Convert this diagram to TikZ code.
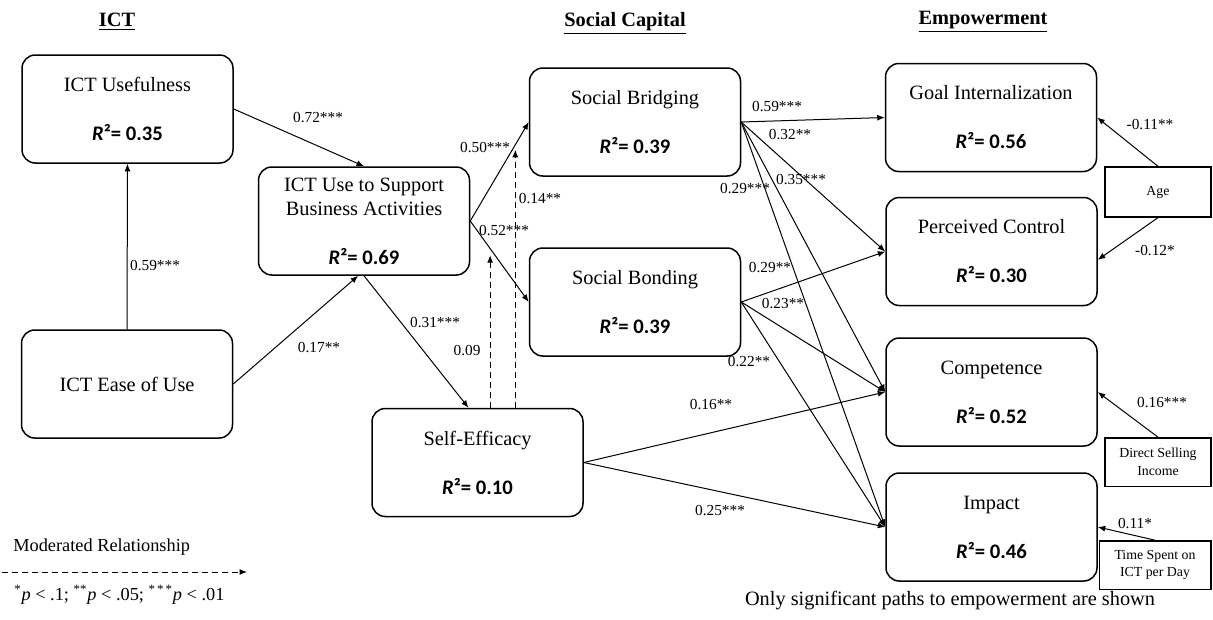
\documentclass[tikz,border=0pt]{standalone}
\usepackage{fontspec}
\setmainfont{Liberation Serif}
\newfontfamily\calibri{Carlito}
\usetikzlibrary{arrows.meta,calc}
\tikzset{%
  var/.style={draw,line width=0.9pt,rounded corners=8pt,align=center,minimum width=126.6pt,minimum height=64.8pt,inner sep=2pt,font=\fontsize{12.2}{14.4}\selectfont},
  ctrl/.style={draw,line width=0.8pt,align=center,minimum width=63.6pt,minimum height=29pt,inner sep=1pt,font=\fontsize{8.3}{10.5}\selectfont},
  arrow/.style={-{Latex[length=4.5pt,width=3.6pt]}, line width=0.6pt},
  modarrow/.style={arrow, dash pattern=on 3.5pt off 2.5pt},
  coef/.style={font=\fontsize{9.2}{11}\selectfont, inner sep=0pt},
  head/.style={font=\bfseries\fontsize{12.2}{14}\selectfont},
  legend/.style={anchor=west, inner sep=0pt, font=\fontsize{11}{13}\selectfont}%
}
\newcommand{\rsq}[1]{{\calibri\fontsize{12.4}{14.4}\selectfont\bfseries\itshape R\upshape²= #1}}

\begin{document}
\begin{tikzpicture}[x=0.6pt, y=-0.6pt]
\useasboundingbox (0,0) rectangle (1213,619);

% Column headings
\node[head] (hict) at (117,22) {\underline{ICT}};
\node[head] (hsoc) at (625,23) {\underline{Social Capital}};
\node[head] (hemp) at (983,22) {\underline{Empowerment}};

% Constructs
\node[var] (usef) at (127.5,109) {ICT Usefulness\\[15pt]\rsq{0.35}};
\node[var] (ease) at (127,384) {ICT Ease of Use};
\node[var] (use) at (364,221) {ICT Use to Support\\Business Activities\\[15pt]\rsq{0.69}};
\node[var] (bridge) at (635,122) {Social Bridging\\[15pt]\rsq{0.39}};
\node[var] (bond) at (635,302) {Social Bonding\\[15pt]\rsq{0.39}};
\node[var] (se) at (477.5,462.5) {Self-Efficacy\\[15pt]\rsq{0.10}};
\node[var] (goal) at (991,117.5) {Goal Internalization\\[15pt]\rsq{0.56}};
\node[var] (pc) at (991.5,251.5) {Perceived Control\\[15pt]\rsq{0.30}};
\node[var] (comp) at (991.5,392) {Competence\\[15pt]\rsq{0.52}};
\node[var] (impact) at (991.5,527) {Impact\\[15pt]\rsq{0.46}};

% Controls
\node[ctrl, minimum height=30pt] (age) at (1158,192) {Age};
\node[ctrl] (dsi) at (1158,462) {Direct Selling\\Income};
\node[ctrl, minimum width=67pt] (time) at (1155,565) {Time Spent on\\ICT per Day};

% Paths
\draw[arrow] (ease.north) -- (usef.south);
\draw[arrow] (usef.east) -- (use.north);
\draw[arrow] (ease.east) -- ([xshift=-3.5pt]use.south);
\draw[arrow] (use.south) -- ([xshift=-5.4pt]se.north);
\draw[arrow] (use.east) -- (bridge.west);
\draw[arrow] (use.east) -- (bond.west);
\foreach \t in {goal,pc,comp,impact} \draw[arrow] (bridge.east) -- (\t.west);
\foreach \t in {pc,comp,impact} \draw[arrow] (bond.east) -- (\t.west);
\foreach \t in {comp,impact} \draw[arrow] (se.east) -- (\t.west);
\draw[arrow] (age.north) -- (goal.east);
\draw[arrow] (age.south) -- ([yshift=-5pt]pc.east);
\draw[arrow] (dsi.north) -- (comp.east);
\draw[arrow] (time.north) -- (impact.east);

% Moderation
\coordinate (m50) at ($(use.east)!0.77!(bridge.west)$);
\coordinate (m52) at ($(use.east)!0.34!(bond.west)$);
\draw[modarrow, shorten >=3pt] (m50 |- se.north) -- (m50);
\draw[modarrow, shorten >=4pt] (m52 |- se.north) -- (m52);

% Path coefficients
\node[coef] (c59a) at (155,265) {0.59***};
\node[coef] (c72) at (318,118) {0.72***};
\node[coef] (c17) at (319,347) {0.17**};
\node[coef] (c31) at (435,323) {0.31***};
\node[coef] (c09) at (467,350) {0.09};
\node[coef] (c14) at (540,199) {0.14**};
\node[coef] (c50) at (485,148) {0.50***};
\node[coef] (c52) at (504,231) {0.52***};
\node[coef] (c59b) at (777,107) {0.59***};
\node[coef] (c32) at (790,135) {0.32**};
\node[coef] (c29a) at (745,189) {0.29***};
\node[coef] (c35) at (801,180) {0.35***};
\node[coef] (c29b) at (770,268) {0.29**};
\node[coef] (c23) at (783,303) {0.23**};
\node[coef] (c22) at (749,362) {0.22**};
\node[coef] (c16a) at (711,404) {0.16**};
\node[coef] (c25) at (720,510) {0.25***};
\node[coef] (c11a) at (1150,125) {-0.11**};
\node[coef] (c12) at (1155,251) {-0.12*};
\node[coef] (c16b) at (1162,402) {0.16***};
\node[coef] (c11b) at (1135,523) {0.11*};

% Legend
\node[legend] (modtxt) at (13,547) {Moderated Relationship};
\coordinate (legA) at (2,572);
\coordinate (legB) at (247,572);
\draw[modarrow] (legA) -- (legB);
\node[legend] (ptxt) at (14,595) {\textsuperscript{*}\textit{p} < .1; \textsuperscript{**}\textit{p} < .05; \textsuperscript{*\,*\,*}\textit{p} < .01};
\node[font=\fontsize{12.2}{14}\selectfont] (note) at (950,601) {Only significant paths to empowerment are shown};

\end{tikzpicture}
\end{document}
